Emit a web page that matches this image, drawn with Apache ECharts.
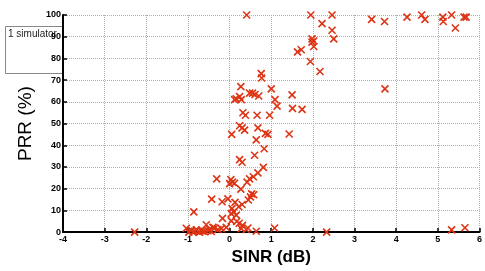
<!DOCTYPE html>
<html>
<head>
<meta charset="utf-8">
<script src="https://cdn.jsdelivr.net/npm/echarts@6/dist/echarts.min.js"></script>
<style>
html, body { margin: 0; padding: 0; background: #fff; }
#chart { width: 485px; height: 271px; }
</style>
</head>
<body>
<div id="chart"></div>
<script>
// SINR (dB) of each run
var sinr = [
    2.46, 2.22, 2.46, 2.50, 2.17, 3.41, 3.72, 4.26, 4.61, 4.69, 5.12, 5.13, 5.33, 5.42, 5.63, 5.68, 3.73,
    2.33, 5.33, 5.65,
    1.95, 1.98, 2.02, 1.98, 2.02, 1.63, 1.72, 1.94,
    0.41, 0.76, 0.77, 0.27, 1.00,
    0.16, 0.24, 0.28, 0.12, 0.48, 0.55, 0.61, 0.70,
    1.09, 1.14, 1.50, 1.51, 1.74,
    0.32, 0.38, 0.66, 0.96, 0.24, 0.30, 0.36, 0.68,
    0.05, 0.86, 0.92, 1.43, 0.64, 0.83, 0.60, 0.24, 0.30, 0.81,
    -0.31, 0.03, 0.07, 0.00, 0.12, 0.68, 0.57, 0.48, 0.42, 0.27,
    0.53, 0.58, 0.50, 0.45, -0.43, -0.18, -0.04, 0.13, 0.30, 0.22,
    0.06, 0.10, 0.04, 0.16, -0.86, -0.17, 0.04, 0.17, 0.23, 0.31,
    -0.56, -0.40, -0.28, -0.20, -0.08, 0.28, 0.40, 0.44, 0.64, 1.08,
    -1.04, -0.92, -0.84, -0.76, -0.72, -0.64, -0.98, -0.88, -0.80, -0.68,
    -0.60, -0.52, -0.48, -0.36, -0.44, -2.28
];
// PRR (%) of each run, same order
var prr = [
    100, 96, 93, 89, 74, 98, 97, 99, 100, 98, 99, 97, 100, 94, 99, 99, 66,
    0, 1, 2,
    100, 89, 88, 87.5, 85.5, 83, 84, 78.6,
    100, 73, 71, 67, 66,
    61.4, 62.4, 61, 61, 64, 64, 63.4, 62.7,
    61, 58, 63.2, 57, 56.5,
    55, 53.8, 53.8, 53.8, 49, 48, 47, 48,
    45, 45.5, 45, 45.2, 42.5, 38.4, 35.4, 33.4, 32.2, 29.8,
    24.5, 24.2, 23, 22.3, 22.5, 27.3, 25.5, 24.5, 23, 19.8,
    17.6, 17.2, 16.2, 14.8, 15.2, 14, 15.3, 13.7, 12.7, 11.7,
    10.8, 9.3, 8.5, 7.8, 9.3, 6.3, 5.2, 4.9, 4.1, 3.1,
    3.4, 2.2, 1.2, 1.6, 2.2, 1.6, 1.2, 1.9, 0.4, 1.9,
    1.8, 0.9, 0.4, 0.4, 0, 0.4, 0, 0, 1, 0.8,
    0.2, 0.6, 1.2, 1.9, 0.3, 0
];
var legendText = '1 simulator';

var points = [];
for (var i = 0; i < sinr.length; i++) {
    points.push([sinr[i], prr[i]]);
}

var chart = echarts.init(document.getElementById('chart'));
var tickFont = { fontFamily: 'Liberation Sans', fontSize: 9, fontWeight: 'bold', color: '#000' };
var gridLine = { show: true, lineStyle: { color: '#b0b0b0', type: 'dotted', width: 1 } };

var option = {
    animation: false,
    grid: { left: 63, right: 4, top: 15, bottom: 30 },
    xAxis: {
        type: 'value',
        min: -4, max: 6, interval: 1,
        name: 'SINR (dB)',
        nameLocation: 'middle',
        nameGap: 13,
        nameTextStyle: { fontFamily: 'Liberation Sans', fontSize: 17, fontWeight: 'bold', color: '#000' },
        axisLine: { show: true, onZero: false, lineStyle: { color: '#000', width: 2 } },
        axisTick: { show: true, inside: true, length: 4, lineStyle: { color: '#000', width: 1.5 } },
        axisLabel: Object.assign({ margin: 3 }, tickFont),
        splitLine: gridLine
    },
    yAxis: {
        type: 'value',
        min: 0, max: 100, interval: 10,
        name: 'PRR (%)',
        nameLocation: 'middle',
        nameGap: 22,
        nameTextStyle: { fontFamily: 'Liberation Sans', fontSize: 19, color: '#000' },
        axisLine: { show: true, onZero: false, lineStyle: { color: '#000', width: 2 } },
        axisTick: { show: true, inside: true, length: 4, lineStyle: { color: '#000', width: 1.5 } },
        axisLabel: Object.assign({ margin: 2 }, tickFont),
        splitLine: gridLine
    },
    graphic: [
        {
            type: 'rect', left: 5, top: 26, z: -10,
            shape: { width: 58, height: 47 },
            style: { fill: '#fff', stroke: '#888', lineWidth: 1 }
        },
        {
            type: 'text', left: 8, top: 29, z: -9,
            style: { text: legendText, fontFamily: 'Liberation Sans', fontSize: 10, fill: '#222' }
        }
    ],
    series: [{
        type: 'scatter',
        data: points,
        symbol: 'path://M0,0L10,10M10,0L0,10',
        symbolSize: 7,
        itemStyle: { color: 'none', borderColor: '#dd3414', borderWidth: 1.6, opacity: 1 }
    }]
};
chart.setOption(option);
</script>
</body>
</html>
